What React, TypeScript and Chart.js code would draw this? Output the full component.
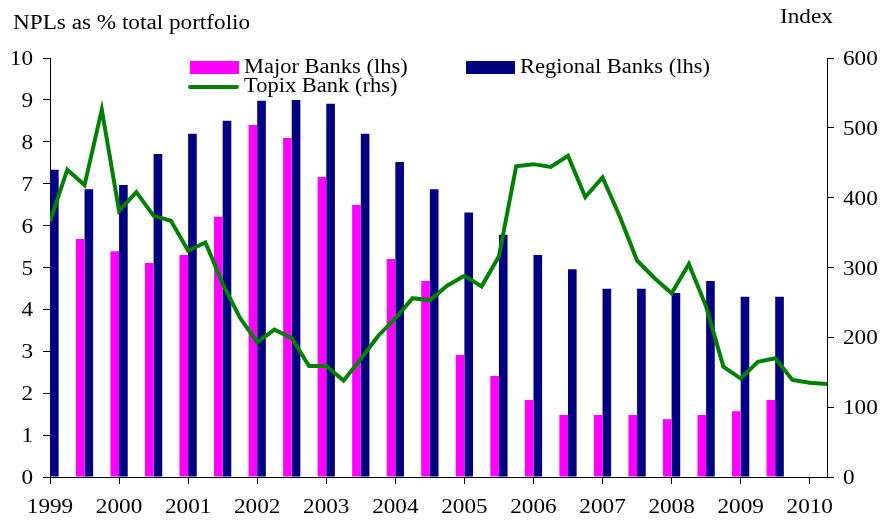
import React, { useEffect, useRef } from 'react';
import { Chart, registerables } from 'chart.js';

Chart.register(...registerables);

// Half-year observation periods for the NPL bars
const barPeriods = [
  1999.0, 1999.5, 2000.0, 2000.5, 2001.0, 2001.5, 2002.0, 2002.5, 2003.0, 2003.5, 2004.0,
  2004.5, 2005.0, 2005.5, 2006.0, 2006.5, 2007.0, 2007.5, 2008.0, 2008.5, 2009.0, 2009.5,
];
const majorBanks: (number | null)[] = [
  null, 5.68, 5.39, 5.11, 5.3, 6.21, 8.4, 8.09, 7.16, 6.49, 5.2,
  4.68, 2.91, 2.41, 1.84, 1.48, 1.48, 1.48, 1.38, 1.48, 1.57, 1.84,
];
const regionalBanks = [
  7.33, 6.87, 6.97, 7.71, 8.19, 8.5, 8.98, 9.0, 8.91, 8.19, 7.52,
  6.87, 6.31, 5.78, 5.3, 4.96, 4.49, 4.49, 4.39, 4.68, 4.3, 4.3,
];

// Quarterly periods for the Topix Bank index
const topixPeriods = [
  1999.0, 1999.25, 1999.5, 1999.75, 2000.0, 2000.25, 2000.5, 2000.75,
  2001.0, 2001.25, 2001.5, 2001.75, 2002.0, 2002.25, 2002.5, 2002.75,
  2003.0, 2003.25, 2003.5, 2003.75, 2004.0, 2004.25, 2004.5, 2004.75,
  2005.0, 2005.25, 2005.5, 2005.75, 2006.0, 2006.25, 2006.5, 2006.75,
  2007.0, 2007.25, 2007.5, 2007.75, 2008.0, 2008.25, 2008.5, 2008.75,
  2009.0, 2009.25, 2009.5, 2009.75, 2010.0, 2010.25,
];
const topixBank = [
  366, 440, 418, 526, 381, 408, 374, 367,
  324, 336, 277, 228, 193, 211, 199, 159,
  159, 138, 169, 202, 227, 256, 253, 274,
  288, 273, 316, 445, 448, 444, 460, 401,
  429, 373, 310, 285, 263, 305, 244, 158,
  141, 165, 170, 139, 135, 133,
];

const seriesLabels = ['Major Banks (lhs)', 'Regional Banks (lhs)', 'Topix Bank (rhs)'];
const leftTitle = 'NPLs as % total portfolio';
const rightTitle = 'Index';

const MAGENTA = '#FF00FF';
const NAVY = '#000080';
const GREEN = '#008000';

const FONT = '20px "Liberation Serif", "Times New Roman", serif';
const STRETCH = 1.16;
const LEGEND_STRETCH = 1.125;

function drawText(
  ctx: CanvasRenderingContext2D,
  text: string,
  x: number,
  y: number,
  align: 'left' | 'right' | 'center',
  stretch: number = STRETCH
) {
  ctx.save();
  ctx.font = FONT;
  const w = ctx.measureText(text).width * stretch;
  let left = x;
  if (align === 'right') left = x - w;
  else if (align === 'center') left = x - w / 2;
  ctx.translate(left, y);
  ctx.scale(stretch, 1);
  ctx.textAlign = 'left';
  ctx.textBaseline = 'alphabetic';
  ctx.fillStyle = '#000';
  ctx.fillText(text, 0, 0);
  ctx.restore();
}

const textPlugin = {
  id: 'textPlugin',
  afterDraw(chart: any) {
    const ctx: CanvasRenderingContext2D = chart.ctx;
    const xs = chart.scales.x;
    const ys = chart.scales.y;
    const y1 = chart.scales.y1;
    const area = chart.chartArea;

    xs.ticks.forEach((t: any) => {
      drawText(ctx, String(t.value), xs.getPixelForValue(t.value), area.bottom + 36, 'center');
    });
    ys.ticks.forEach((t: any) => {
      drawText(ctx, String(t.value), area.left - 17, ys.getPixelForValue(t.value) + 7, 'right');
    });
    y1.ticks.forEach((t: any) => {
      drawText(ctx, String(t.value), area.right + 16, y1.getPixelForValue(t.value) + 7, 'left');
    });

    drawText(ctx, leftTitle, 13, 29, 'left');
    drawText(ctx, rightTitle, 780, 23, 'left');

    // legend
    const ds = chart.data.datasets;
    const major = ds.find((d: any) => d.label === seriesLabels[0]);
    const regional = ds.find((d: any) => d.label === seriesLabels[1]);
    const topix = ds.find((d: any) => d.label === seriesLabels[2]);

    ctx.save();
    ctx.fillStyle = major.backgroundColor;
    ctx.fillRect(190, 61, 49, 13);
    ctx.fillStyle = regional.backgroundColor;
    ctx.fillRect(466, 61, 49, 13);
    ctx.strokeStyle = topix.borderColor;
    ctx.lineWidth = 4;
    ctx.lineCap = 'round';
    ctx.beginPath();
    ctx.moveTo(190, 87);
    ctx.lineTo(237, 87);
    ctx.stroke();
    ctx.restore();

    drawText(ctx, major.label, 244, 73, 'left', LEGEND_STRETCH);
    drawText(ctx, regional.label, 520, 73, 'left', LEGEND_STRETCH);
    drawText(ctx, topix.label, 244, 92, 'left', LEGEND_STRETCH);
  },
};

export default function App() {
  const canvasRef = useRef<HTMLCanvasElement | null>(null);

  useEffect(() => {
    const canvas = canvasRef.current;
    if (!canvas) return;
    const chart = new Chart(canvas, {
      type: 'bar',
      data: {
        datasets: [
          {
            type: 'line',
            label: seriesLabels[2],
            data: topixPeriods.map((p, i) => ({ x: p, y: topixBank[i] })),
            borderColor: GREEN,
            backgroundColor: GREEN,
            borderWidth: 4,
            pointRadius: 0,
            tension: 0,
            yAxisID: 'y1',
            order: 0,
          } as any,
          {
            type: 'bar',
            label: seriesLabels[0],
            data: barPeriods.map((p, i) => ({ x: p, y: majorBanks[i] })),
            backgroundColor: MAGENTA,
            borderWidth: 0,
            yAxisID: 'y',
            order: 1,
            categoryPercentage: 0.5,
            barPercentage: 1,
          } as any,
          {
            type: 'bar',
            label: seriesLabels[1],
            data: barPeriods.map((p, i) => ({ x: p, y: regionalBanks[i] })),
            backgroundColor: NAVY,
            borderWidth: 0,
            yAxisID: 'y',
            order: 1,
            categoryPercentage: 0.5,
            barPercentage: 1,
          } as any,
        ],
      },
      options: {
        responsive: false,
        animation: false,
        devicePixelRatio: 1,
        layout: { padding: { top: 58, left: 0, right: 0, bottom: 0 } },
        plugins: {
          legend: { display: false },
          tooltip: { enabled: false },
        },
        scales: {
          x: {
            type: 'linear',
            min: 1999,
            max: 2010.25,
            offset: false,
            grid: { display: true, drawOnChartArea: false, drawTicks: true, tickLength: 7, color: '#000', offset: false },
            border: { display: true, color: '#000', width: 1 },
            ticks: { stepSize: 1, includeBounds: false, display: false },
            afterFit: (s: any) => { s.height = 44; },
          },
          y: {
            type: 'linear',
            position: 'left',
            min: 0,
            max: 10,
            grid: { display: true, drawOnChartArea: false, drawTicks: true, tickLength: 7, color: '#000' },
            border: { display: true, color: '#000', width: 1 },
            ticks: { stepSize: 1, display: false },
            afterFit: (s: any) => { s.width = 50; },
          },
          y1: {
            type: 'linear',
            position: 'right',
            min: 0,
            max: 600,
            grid: { display: true, drawOnChartArea: false, drawTicks: true, tickLength: 7, color: '#000' },
            border: { display: true, color: '#000', width: 1 },
            ticks: { stepSize: 100, display: false },
            afterFit: (s: any) => { s.width = 53; },
          },
        },
      } as any,
      plugins: [textPlugin],
    });
    return () => chart.destroy();
  }, []);

  return (
    <div style={{ position: 'absolute', left: 0, top: 0, width: 880, height: 521, background: '#fff' }}>
      <canvas ref={canvasRef} width={880} height={521} style={{ display: 'block' }} />
    </div>
  );
}
